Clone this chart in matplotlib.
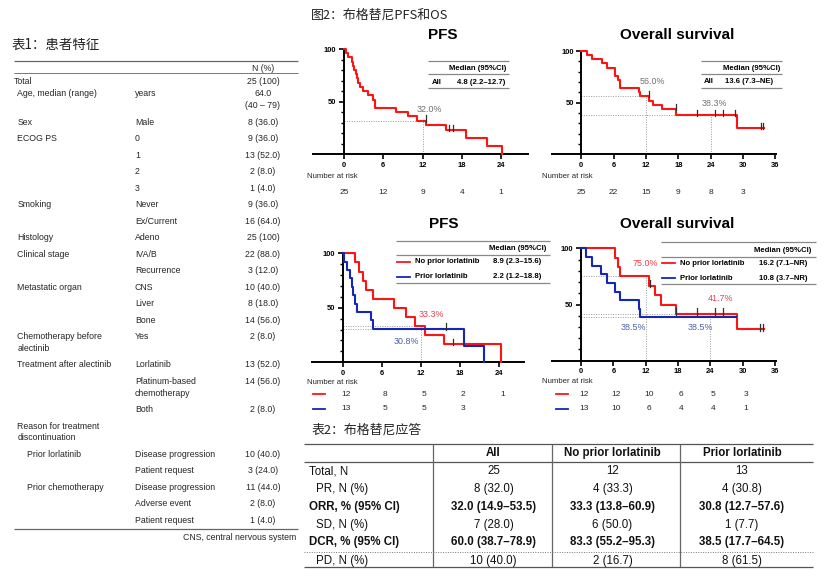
import matplotlib
matplotlib.use('Agg')
import matplotlib.pyplot as plt
import numpy as np

W, H = 828, 580
plt.rcParams['font.family'] = ['Liberation Sans', 'DejaVu Sans']
CJK = ['Noto Sans CJK SC', 'DejaVu Sans']

RED = '#FF1414'
BLUE = '#1428B4'
RED_TXT = '#E8434A'
BLUE_TXT = '#4C5FA6'
GRAY_TXT = '#707070'
TXT = '#262626'
CENS = '#303030'

# ---------------- data ----------------
t1_title = '表1：患者特征'
t1_header = 'N (%)'
t1_labels = ['Total', 'Age, median (range)', 'Sex', 'ECOG PS', '', '', '', 'Smoking', '',
             'Histology', 'Clinical stage', '', 'Metastatic organ', '', '',
             'Chemotherapy before\nalectinib', 'Treatment after alectinib', '', '',
             'Reason for treatment\ndiscontinuation', 'Prior lorlatinib', '',
             'Prior chemotherapy', '', '']
t1_items = ['', 'years', 'Male', '0', '1', '2', '3', 'Never', 'Ex/Current',
            'Adeno', 'IVA/B', 'Recurrence', 'CNS', 'Liver', 'Bone',
            'Yes', 'Lorlatinib', 'Platinum-based\nchemotherapy', 'Both',
            '', 'Disease progression', 'Patient request',
            'Disease progression', 'Adverse event', 'Patient request']
t1_values = ['25 (100)', '64.0\n(40 – 79)', '8 (36.0)', '9 (36.0)', '13 (52.0)', '2 (8.0)',
             '1 (4.0)', '9 (36.0)', '16 (64.0)', '25 (100)', '22 (88.0)', '3 (12.0)',
             '10 (40.0)', '8 (18.0)', '14 (56.0)', '2 (8.0)', '13 (52.0)', '14 (56.0)',
             '2 (8.0)', '', '10 (40.0)', '3 (24.0)', '11 (44.0)', '2 (8.0)', '1 (4.0)']
t1_level = [0] + [1] * 19 + [2] * 5
t1_footnote = 'CNS, central nervous system'

fig2_title = '图2：布格替尼PFS和OS'

# KM: PFS all patients
pfs_all_t = [0, 0.25, 0.6, 1.2, 1.4, 1.6, 1.8, 1.95, 2.1, 2.4, 2.9, 3.6, 4.4, 4.7, 4.8,
             7.9, 9.75, 11.1, 12.5, 15.6, 18.7, 21.9, 24.1]
pfs_all_s = [100, 96, 92, 88, 84, 80, 76, 72, 68, 64, 60, 56, 52, 48, 44,
             40, 36, 32, 27.4, 22.9, 15.2, 7.6, 0]
pfs_all_cens = [12.5, 16.0, 16.7]
pfs_all_risk = [25, 12, 9, 4, 1]
pfs_all_median = '4.8 (2.2–12.7)'

# KM: OS all patients
os_all_t = [0, 1.0, 2.0, 3.8, 4.7, 6.2, 6.3, 6.8, 7.2, 7.25, 10.75, 10.95, 12.6, 13.35,
            14.9, 17.55, 28.9]
os_all_s = [100, 96, 92, 88, 84, 80, 76, 72, 68, 64, 60, 56, 52, 48, 44, 38.3, 25.5]
os_all_end = 33.9
os_all_cens = [12.6, 17.55, 21.4, 24.8, 26.3, 28.5, 33.3, 33.8]
os_all_risk = [25, 22, 15, 9, 8, 3]
os_all_median = '13.6 (7.3–NE)'

# KM: PFS by prior lorlatinib
pfs_no_t = [0, 1.9, 2.5, 3.1, 3.5, 4.6, 7.9, 9.7, 11.1, 12.6, 15.5, 24.2]
pfs_no_s = [100, 91.7, 83.3, 75, 66.7, 58.3, 50, 41.7, 33.3, 25, 16.7, 0]
pfs_no_cens = [16.9]
pfs_no_risk = [12, 8, 5, 2, 1]
pfs_pr_t = [0, 0.2, 0.6, 1.1, 1.4, 1.6, 1.9, 2.15, 4.4, 4.7, 18.6, 21.7]
pfs_pr_s = [100, 92.3, 84.6, 76.9, 69.2, 61.5, 53.8, 46.2, 38.5, 30.8, 15.4, 0]
pfs_pr_cens = [15.9]
pfs_pr_risk = [13, 5, 5, 3]
pfs_grp_median = ['8.9 (2.3–15.6)', '2.2 (1.2–18.8)']

# KM: OS by prior lorlatinib
os_no_t = [0, 6.3, 6.8, 7.2, 12.6, 13.7, 14.8, 17.6, 29.0]
os_no_s = [100, 91.7, 83.3, 75, 66.7, 58.3, 50, 41.7, 27.8]
os_no_end = 33.9
os_no_cens = [12.8, 17.7, 21.5, 24.9, 26.4, 33.2, 33.8]
os_no_risk = [12, 12, 10, 6, 5, 3]
os_pr_t = [0, 0.85, 2.0, 3.8, 4.9, 6.3, 7.2, 10.75, 10.95]
os_pr_s = [100, 92.3, 84.6, 76.9, 69.2, 61.5, 53.8, 46.2, 38.5]
os_pr_end = 28.7
os_pr_cens = []
os_pr_risk = [13, 10, 6, 4, 4, 1]
os_grp_median = ['16.2 (7.1–NR)', '10.8 (3.7–NR)']
grp_names = ['No prior lorlatinib', 'Prior lorlatinib']

# Table 2
t2_title = '表2：布格替尼应答'
t2_cols = ['All', 'No prior lorlatinib', 'Prior lorlatinib']
t2_rows = ['Total, N', 'PR, N (%)', 'ORR, % (95% CI)', 'SD, N (%)', 'DCR, % (95% CI)', 'PD, N (%)']
t2_bold = [False, False, True, False, True, False]
t2_all = ['25', '8 (32.0)', '32.0 (14.9–53.5)', '7 (28.0)', '60.0 (38.7–78.9)', '10 (40.0)']
t2_noprior = ['12', '4 (33.3)', '33.3 (13.8–60.9)', '6 (50.0)', '83.3 (55.2–95.3)', '2 (16.7)']
t2_prior = ['13', '4 (30.8)', '30.8 (12.7–57.6)', '1 (7.7)', '38.5 (17.7–64.5)', '8 (61.5)']

# ---------------- figure ----------------
fig = plt.figure(figsize=(W / 100, H / 100), dpi=100)
bg = fig.add_axes([0, 0, 1, 1])
bg.set_xlim(0, W)
bg.set_ylim(H, 0)
bg.axis('off')


def hline(x0, x1, y, lw=0.8, color='#555555', ls='-'):
    bg.plot([x0, x1], [y, y], color=color, lw=lw, ls=ls, solid_capstyle='butt')


def vline(x, y0, y1, lw=0.8, color='#555555'):
    bg.plot([x, x], [y0, y1], color=color, lw=lw, solid_capstyle='butt')


def mtext(x, y, s, ha='left', size=6.3, step=11.7, color=TXT, fontweight='normal'):
    for k, line in enumerate(s.split('\n')):
        bg.text(x, y + k * step, line, ha=ha, va='center', fontsize=size, color=color,
                fontweight=fontweight)


# ---- Table 1 ----
bg.text(12, 45, t1_title, fontsize=9.7, family=CJK, va='center', ha='left', color='#222222')
hline(14, 298, 60.7, lw=0.9, color='#666666')
mtext(263, 68.5, t1_header, ha='center')
hline(14, 298, 72.7, lw=0.7, color='#777777')
lvl_x = [14, 17.3, 26.7]
y = 81.7
prev_lines = None
for i, (lab, item, val) in enumerate(zip(t1_labels, t1_items, t1_values)):
    if i == 1:
        y = 94.0
    elif i > 1:
        y += 16.5 + 11.7 * (prev_lines - 1)
    mtext(lvl_x[t1_level[i]], y, lab)
    mtext(135, y, item)
    mtext(263, y, val, ha='center')
    prev_lines = max(lab.count('\n'), item.count('\n'), val.count('\n')) + 1
hline(14, 298, 529, lw=0.9, color='#666666')
bg.text(296, 537, t1_footnote, ha='right', va='center', fontsize=6.3, color=TXT)

# ---- Figure 2 title ----
bg.text(311, 15, fig2_title, fontsize=9.3, family=CJK, va='center', ha='left', color='#222222')


def km_axes(left, right, top, y0, t0, ppm, ppp, xmax):
    ax = fig.add_axes([left / W, 1 - y0 / H, (right - left) / W, (y0 - top) / H])
    ax.set_xlim((left - t0) / ppm, (right - t0) / ppm)
    ax.set_ylim(0, (y0 - top) / ppp)
    ax.patch.set_alpha(0)
    for s in ['top', 'right']:
        ax.spines[s].set_visible(False)
    ax.spines['left'].set_position(('data', 0))
    ax.spines['left'].set_bounds(0, 100)
    for s in ['left', 'bottom']:
        ax.spines[s].set_linewidth(1.4)
    ax.set_xticks(range(0, xmax + 1, 6))
    ax.set_yticks([50, 100])
    ax.set_yticks(range(10, 100, 10), minor=True)
    ax.tick_params(which='major', length=3.5, width=1.2, labelsize=5.4, pad=2)
    ax.tick_params(axis='y', which='minor', length=2.5, width=1.0)
    for lb in ax.get_xticklabels() + ax.get_yticklabels():
        lb.set_fontweight('bold')
    ax.geo = (t0, ppm)
    return ax


def km_curve(ax, t, s, color, end=None, cens=()):
    tt = list(t) + ([end] if end is not None else [])
    ss = list(s) + ([s[-1]] if end is not None else [])
    ax.step(tt, ss, where='post', color=color, lw=1.5, clip_on=False, zorder=5)
    ta = np.asarray(t)
    for c in cens:
        idx = np.searchsorted(ta, c, side='left') - 1
        lv = s[idx]
        ax.plot([c, c], [lv - 1, lv + 5], color=CENS, lw=0.9, zorder=6, clip_on=False)


def dotted(ax, pts_h, pts_v):
    for (x1, yv) in pts_h:
        ax.plot([0, x1], [yv, yv], ls=(0, (1, 1.5)), color='#9A9A9A', lw=0.7, zorder=2)
    for (xv, y1) in pts_v:
        ax.plot([xv, xv], [0, y1], ls=(0, (1, 1.5)), color='#9A9A9A', lw=0.7, zorder=2)


def risk_rows(ax, rows, ys, colors, label_x, label_y, line_t=None):
    t0, ppm = ax.geo
    bg.text(label_x, label_y, 'Number at risk', fontsize=5.6, va='center', ha='left', color=TXT)
    for r, yy, col in zip(rows, ys, colors):
        if col is not None:
            bg.plot([t0 + line_t[0] * ppm, t0 + line_t[1] * ppm], [yy, yy], color=col, lw=1.3)
        for k, n in enumerate(r):
            bg.text(t0 + 6 * k * ppm + (3 if col is not None else 0), yy, str(n), fontsize=6.0,
                    ha='center', va='center', color=TXT)


# ---- Top-left PFS ----
ax1 = km_axes(313, 528, 40, 154.3, 344, 6.55, 1.053, 24)
km_curve(ax1, pfs_all_t, pfs_all_s, RED, cens=pfs_all_cens)
dotted(ax1, [(12, 32.0)], [(12, 32.0)])
ax1.text(13.1, 43, '32.0%', fontsize=6.4, color=GRAY_TXT, ha='center', va='center')
bg.text(443, 35, 'PFS', fontsize=11, fontweight='bold', ha='center', va='center')
hline(428, 509, 61, lw=0.9, color='#888888')
bg.text(506, 68.3, 'Median (95%CI)', fontsize=5.6, fontweight='bold', ha='right', va='center')
hline(428, 509, 74, lw=0.9, color='#888888')
bg.text(431.7, 82.3, 'All', fontsize=5.6, fontweight='bold', ha='left', va='center')
bg.text(481, 82.3, pfs_all_median, fontsize=5.6, fontweight='bold', ha='center', va='center')
hline(428, 509, 88.3, lw=0.9, color='#888888')
risk_rows(ax1, [pfs_all_risk], [192.3], [None], 306.7, 176.7)

# ---- Top-right OS ----
ax2 = km_axes(552, 776.5, 40, 154.3, 581.3, 5.39, 1.033, 36)
km_curve(ax2, os_all_t, os_all_s, RED, end=os_all_end, cens=os_all_cens)
dotted(ax2, [(12, 56.0), (24, 38.3)], [(12, 56.0), (24, 38.3)])
ax2.text(13.1, 70.3, '56.0%', fontsize=6.4, color=GRAY_TXT, ha='center', va='center')
ax2.text(24.6, 49.4, '38.3%', fontsize=6.4, color=GRAY_TXT, ha='center', va='center')
bg.text(676.7, 35, 'Overall survival', fontsize=11, fontweight='bold', ha='center', va='center')
hline(701, 782, 60.7, lw=0.9, color='#888888')
bg.text(780, 68.3, 'Median (95%CI)', fontsize=5.6, fontweight='bold', ha='right', va='center')
hline(701, 782, 74, lw=0.9, color='#888888')
bg.text(704.3, 81.7, 'All', fontsize=5.6, fontweight='bold', ha='left', va='center')
bg.text(749, 81.7, os_all_median, fontsize=5.6, fontweight='bold', ha='center', va='center')
hline(701, 782, 88.3, lw=0.9, color='#888888')
risk_rows(ax2, [os_all_risk], [192.3], [None], 541.7, 176.7)

# ---- Bottom-left PFS groups ----
ax3 = km_axes(311.7, 524, 245, 362.3, 342.7, 6.525, 1.09, 24)
km_curve(ax3, pfs_no_t, pfs_no_s, RED, cens=pfs_no_cens)
km_curve(ax3, pfs_pr_t, pfs_pr_s, BLUE, cens=pfs_pr_cens)
dotted(ax3, [(12, 33.3), (12, 30.8)], [(12, 33.3)])
ax3.text(13.6, 43.4, '33.3%', fontsize=6.4, color=RED_TXT, ha='center', va='center')
ax3.text(9.8, 18.9, '30.8%', fontsize=6.4, color=BLUE_TXT, ha='center', va='center')
bg.text(444, 224, 'PFS', fontsize=11, fontweight='bold', ha='center', va='center')
hline(396, 550, 240.7, lw=0.9, color='#888888')
bg.text(546, 249, 'Median (95%CI)', fontsize=5.6, fontweight='bold', ha='right', va='center')
hline(396, 550, 255, lw=0.9, color='#888888')
for k, (nm, md, col) in enumerate(zip(grp_names, pfs_grp_median, [RED, BLUE])):
    yy = 261.7 + 15 * k
    bg.plot([397.3, 410], [yy, yy], color=col, lw=1.3)
    bg.text(415, yy, nm, fontsize=5.6, fontweight='bold', ha='left', va='center')
    bg.text(517, yy, md, fontsize=5.6, fontweight='bold', ha='center', va='center')
hline(396, 550, 283.3, lw=0.9, color='#888888')
risk_rows(ax3, [pfs_no_risk, pfs_pr_risk], [394.3, 409], [RED, BLUE], 306.7, 382.7,
          line_t=(-4.5, -2.7))

# ---- Bottom-right OS groups ----
ax4 = km_axes(552, 776.5, 240, 360.7, 581, 5.39, 1.124, 36)
km_curve(ax4, os_no_t, os_no_s, RED, end=os_no_end, cens=os_no_cens)
km_curve(ax4, os_pr_t, os_pr_s, BLUE, end=os_pr_end, cens=os_pr_cens)
dotted(ax4, [(12, 75.0), (24, 41.7), (24, 38.5)], [(12, 75.0), (24, 41.7)])
ax4.text(11.9, 86.5, '75.0%', fontsize=6.4, color=RED_TXT, ha='center', va='center')
ax4.text(25.9, 54.9, '41.7%', fontsize=6.4, color=RED_TXT, ha='center', va='center')
ax4.text(9.7, 29.4, '38.5%', fontsize=6.4, color=BLUE_TXT, ha='center', va='center')
ax4.text(22.2, 29.4, '38.5%', fontsize=6.4, color=BLUE_TXT, ha='center', va='center')
bg.text(676.7, 224, 'Overall survival', fontsize=11, fontweight='bold', ha='center', va='center')
hline(661, 816, 242.3, lw=0.9, color='#888888')
bg.text(811, 250.7, 'Median (95%CI)', fontsize=5.6, fontweight='bold', ha='right', va='center')
hline(661, 816, 256.7, lw=0.9, color='#888888')
for k, (nm, md, col) in enumerate(zip(grp_names, os_grp_median, [RED, BLUE])):
    yy = 263.3 + 15 * k
    bg.plot([661.7, 675], [yy, yy], color=col, lw=1.3)
    bg.text(680, yy, nm, fontsize=5.6, fontweight='bold', ha='left', va='center')
    bg.text(783, yy, md, fontsize=5.6, fontweight='bold', ha='center', va='center')
hline(661, 816, 284.3, lw=0.9, color='#888888')
risk_rows(ax4, [os_no_risk, os_pr_risk], [394.3, 409], [RED, BLUE], 541.7, 381.7,
          line_t=(-4.6, -2.4))

# ---- Table 2 ----
bg.text(311.7, 430, t2_title, fontsize=9.3, family=CJK, va='center', ha='left', color='#222222')
hline(304, 813, 444.3, lw=0.9, color='#555555')
hline(304, 813, 461.7, lw=0.9, color='#555555')
for xv in [432.7, 552.3, 680]:
    vline(xv, 444.3, 567, lw=0.9, color='#666666')
col_x = [493.5, 612.5, 742]
for cx, cn in zip(col_x, t2_cols):
    bg.text(cx, 453.3, cn, fontsize=8.3, fontweight='bold', ha='center', va='center', color='#111111')
row_y = [471, 489, 506.7, 524.7, 542.3, 560.7]
for k, (rn, b) in enumerate(zip(t2_rows, t2_bold)):
    fw = 'bold' if b else 'normal'
    rx = 309.5 if (b or k == 0) else 316
    bg.text(rx, row_y[k], rn, fontsize=8.3, fontweight=fw, ha='left', va='center', color='#111111')
    for cx, vals in zip(col_x, [t2_all, t2_noprior, t2_prior]):
        bg.text(cx, row_y[k], vals[k], fontsize=8.3, fontweight=fw, ha='center', va='center',
                color='#111111')
hline(304, 813, 551.7, lw=0.7, color='#777777', ls=(0, (1, 1.5)))
hline(304, 813, 567, lw=0.9, color='#555555')

fig.savefig('out.png', dpi=100)
